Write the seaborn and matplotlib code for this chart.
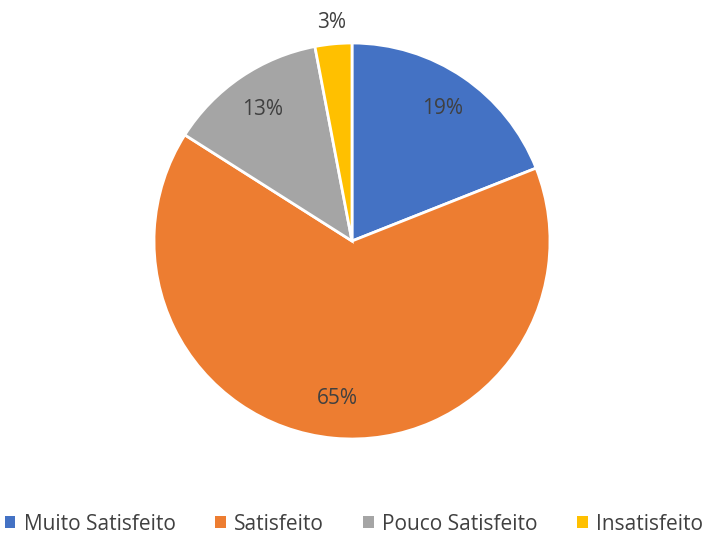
import matplotlib
matplotlib.use("Agg")
import matplotlib.pyplot as plt
import seaborn as sns
import numpy as np
from matplotlib.patches import Patch

categories = ["Muito Satisfeito", "Satisfeito", "Pouco Satisfeito", "Insatisfeito"]
values = [19, 65, 13, 3]
labels = ["19%", "65%", "13%", "3%"]
colors = ["#4472C4", "#ED7D31", "#A5A5A5", "#FFC000"]

sns.set_theme(style="white")
plt.rcParams['font.family'] = ['Open Sans', 'DejaVu Sans']

fig = plt.figure(figsize=(7.08, 5.36), dpi=100)
r = 198
cx, cy = 352, 241
ax = fig.add_axes([(cx - r) / 708, (536 - cy - r) / 536, 2 * r / 708, 2 * r / 536])
wedges, _ = ax.pie(values, colors=colors, startangle=90, counterclock=False,
                   wedgeprops=dict(edgecolor="white", linewidth=2))
ax.set_xlim(-1, 1)
ax.set_ylim(-1, 1)
ax.set_aspect("equal")

cum = np.cumsum([0] + values)
total = sum(values)
dists = [0.81, 0.80, 0.80, 1.11]
for i, (lab, d) in enumerate(zip(labels, dists)):
    mid = 90 - (cum[i] + values[i] / 2) / total * 360
    x = d * np.cos(np.deg2rad(mid))
    y = d * np.sin(np.deg2rad(mid))
    ax.text(x, y, lab, ha="center", va="center", fontsize=15, color="#404040")

handles = [Patch(facecolor=c, edgecolor="none") for c in colors]
fig.legend(handles, categories, loc="center", bbox_to_anchor=(0.5, 1 - 524 / 536),
           ncol=4, frameon=False, fontsize=15, handlelength=0.5, handleheight=0.5,
           handletextpad=0.4, columnspacing=1.9, labelcolor="#404040")

fig.savefig("out.png", dpi=100)
